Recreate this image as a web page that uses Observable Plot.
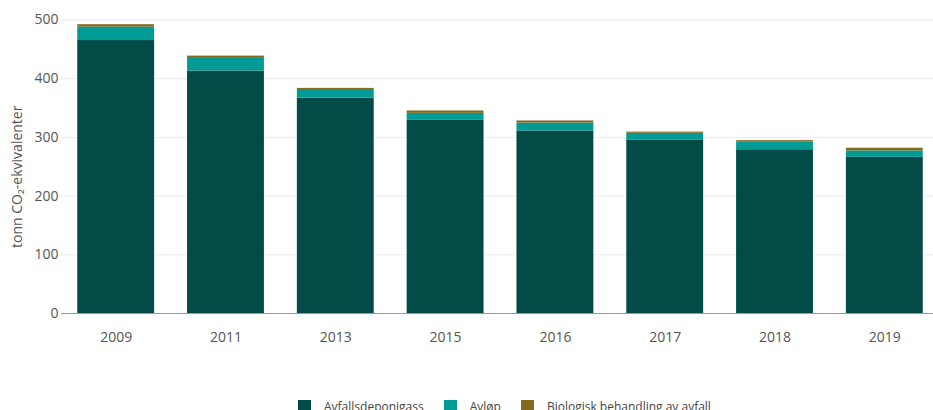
<!DOCTYPE html>
<html>
<head>
<meta charset="utf-8">
<script src="https://cdn.jsdelivr.net/npm/d3@7"></script>
<script src="https://cdn.jsdelivr.net/npm/@observablehq/plot@0.6"></script>
<style>
  body { margin: 0; background: #fff; font-family: "Open Sans", sans-serif; }
  #chart { position: relative; width: 933px; }
  .legend { display: flex; align-items: center; padding-left: 298px; margin-top: 8px; font-size: 12px; color: #444; }
  .legend .item { display: flex; align-items: center; margin-right: 20px; }
  .legend .sw { width: 13px; height: 13px; margin-right: 13px; }
</style>
</head>
<body>
<div id="chart"></div>
<script>
const years = ["2009", "2011", "2013", "2015", "2016", "2017", "2018", "2019"];
const seriesNames = ["Avfallsdeponigass", "Avløp", "Biologisk behandling av avfall"];
const avfallsdeponigass = [465, 413, 367, 329, 311, 295, 279, 266];
const avlop = [23, 23, 13, 12, 13.5, 12, 13.5, 11];
const biologisk = [4, 2.5, 3.5, 4, 3.5, 2, 2, 4.5];
const colors = ["#024B46", "#009B95", "#85691E"];
const yTicks = [0, 100, 200, 300, 400, 500];
const yLabel = "tonn CO₂-ekvivalenter";

const seriesValues = [avfallsdeponigass, avlop, biologisk];
const rows = [];
years.forEach((yr, i) => {
  seriesNames.forEach((s, j) => rows.push({year: yr, series: s, value: seriesValues[j][i]}));
});

const W = 933, H = 390, ML = 61, MT = 19.5, MB = 77;
const plot = Plot.plot({
  width: W,
  height: H,
  marginLeft: ML,
  marginRight: 0,
  marginTop: MT,
  marginBottom: MB,
  style: {fontFamily: "'Open Sans', sans-serif", fontSize: "14px", color: "#555", background: "#fff"},
  x: {type: "band", domain: years, range: [ML, 939], paddingInner: 0.3, paddingOuter: 0.148, round: false, label: null},
  y: {domain: [0, 500], label: null},
  color: {domain: seriesNames, range: colors},
  marks: [
    Plot.gridY(yTicks, {stroke: "#ebebeb", strokeOpacity: 1, strokeWidth: 1}),
    Plot.barY(rows, {x: "year", y: "value", fill: "series", order: seriesNames}),
    Plot.ruleY([0], {stroke: "#999", strokeWidth: 1}),
    Plot.axisY(yTicks, {tickSize: 0, tickPadding: 3, label: null, fill: "#555", fontSize: 14}),
    Plot.axisX({tickSize: 0, tickPadding: 19, label: null, fill: "#555", fontSize: 14}),
    Plot.text([yLabel], {frameAnchor: "left", dx: -44, dy: 10, rotate: -90, fill: "#555", fontSize: 14, textAnchor: "middle"})
  ]
});
const chart = document.getElementById("chart");
chart.appendChild(plot);

const legend = document.createElement("div");
legend.className = "legend";
seriesNames.forEach((s, i) => {
  const it = document.createElement("div");
  it.className = "item";
  const sw = document.createElement("span");
  sw.className = "sw";
  sw.style.background = colors[i];
  const t = document.createElement("span");
  t.textContent = s;
  it.appendChild(sw); it.appendChild(t);
  legend.appendChild(it);
});
chart.appendChild(legend);
</script>
</body>
</html>
